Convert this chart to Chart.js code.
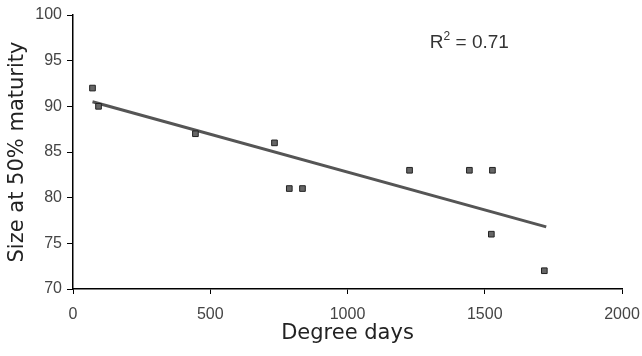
<!DOCTYPE html>
<html>
<head>
<meta charset="utf-8">
<script src="https://cdn.jsdelivr.net/npm/chart.js@4.4.1/dist/chart.umd.min.js"></script>
<style>
  html, body { margin: 0; padding: 0; background: #fff; }
  #wrap { width: 642px; height: 356px; }
</style>
</head>
<body>
<div id="wrap"><canvas id="chart1" width="642" height="356"></canvas></div>
<script>
// degree days vs size at 50% maturity
var degreeDays = [71, 93, 446, 734, 788, 836, 1226, 1444, 1528, 1524, 1717];
var sizeAt50 = [92, 90, 87, 86, 81, 81, 83, 83, 83, 76, 72];

// fitted line end points
var fitX = [71, 1724];
var fitY = [90.5, 76.8];

var xTicks = [0, 500, 1000, 1500, 2000];
var yTicks = [70, 75, 80, 85, 90, 95, 100];
var rSquared = "0.71";

var points = degreeDays.map(function(d, i) { return { x: d, y: sizeAt50[i] }; });
var fitLine = fitX.map(function(d, i) { return { x: d, y: fitY[i] }; });

// little plugin to write the R² label
var r2Label = {
    id: 'r2Label',
    afterDraw: function(chart) {
        var ctx = chart.ctx;
        var xs = chart.scales.x, ys = chart.scales.y;
        var px = xs.getPixelForValue(1300);
        var py = ys.getPixelForValue(96.35);
        ctx.save();
        ctx.fillStyle = '#333';
        ctx.textBaseline = 'alphabetic';
        ctx.font = '19px "Liberation Sans", Arial, sans-serif';
        ctx.fillText('R', px, py);
        var w = ctx.measureText('R').width;
        ctx.font = '12px "Liberation Sans", Arial, sans-serif';
        ctx.fillText('2', px + w, py - 8);
        var w2 = ctx.measureText('2').width;
        ctx.font = '19px "Liberation Sans", Arial, sans-serif';
        ctx.fillText(' = ' + rSquared, px + w + w2, py);
        ctx.restore();
    }
};

var ctx1 = document.getElementById('chart1').getContext('2d');
var myChart = new Chart(ctx1, {
    type: 'scatter',
    data: {
        datasets: [{
            data: fitLine,
            showLine: true,
            borderColor: '#555',
            borderWidth: 3,
            pointRadius: 0,
            order: 2
        }, {
            data: points,
            pointStyle: 'rect',
            pointRadius: 4,
            backgroundColor: '#666',
            borderColor: '#222',
            borderWidth: 1,
            order: 1
        }]
    },
    options: {
        responsive: false,
        animation: false,
        layout: { padding: { top: 15, right: 20, left: 0, bottom: 0 } },
        plugins: {
            legend: { display: false },
            tooltip: { enabled: false }
        },
        scales: {
            x: {
                type: 'linear',
                min: 0,
                max: 2000,
                afterBuildTicks: function(s) { s.ticks = xTicks.map(function(v) { return { value: v }; }); },
                afterFit: function(s) { s.height = 67; s.paddingRight = 0; s.paddingLeft = 0; },
                ticks: {
                    color: '#444',
                    padding: 11,
                    callback: function(v) { return String(v); },
                    font: { family: '"Liberation Sans", Arial, sans-serif', size: 16 }
                },
                grid: { display: true, drawOnChartArea: false, drawTicks: true, tickLength: 5, color: '#000' },
                border: { color: '#000', width: 1.5 },
                title: {
                    display: true,
                    text: 'Degree days',
                    color: '#222',
                    padding: { top: 2, bottom: 10 },
                    font: { family: '"DejaVu Sans", Verdana, sans-serif', size: 21 }
                }
            },
            y: {
                type: 'linear',
                min: 70,
                max: 100,
                afterBuildTicks: function(s) { s.ticks = yTicks.map(function(v) { return { value: v }; }); },
                afterFit: function(s) { s.width = 73; },
                ticks: {
                    color: '#444',
                    padding: 5,
                    font: { family: '"Liberation Sans", Arial, sans-serif', size: 16 }
                },
                grid: { display: true, drawOnChartArea: false, drawTicks: true, tickLength: 6, color: '#000' },
                border: { color: '#000', width: 1.5 },
                title: {
                    display: true,
                    text: 'Size at 50% maturity',
                    color: '#222',
                    padding: { top: 5, bottom: 4 },
                    font: { family: '"DejaVu Sans", Verdana, sans-serif', size: 21 }
                }
            }
        }
    },
    plugins: [r2Label]
});
</script>
</body>
</html>
